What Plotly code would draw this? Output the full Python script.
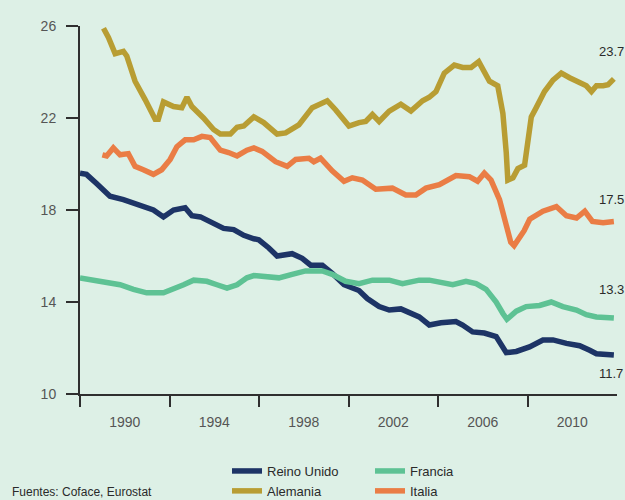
import plotly.graph_objects as go

# Decimal years and values for each country series
reino_unido_x = [1988.0, 1988.29, 1988.74, 1989.34, 1989.94, 1990.39, 1990.83, 1991.28, 1991.73, 1992.18,
                 1992.7, 1993.0, 1993.38, 1993.97, 1994.42, 1994.87, 1995.32, 1995.77, 1995.99, 1996.44,
                 1996.81, 1997.48, 1997.93, 1998.31, 1998.83, 1999.27, 1999.8, 2000.47, 2000.84, 2001.37,
                 2001.82, 2002.34, 2002.71, 2003.16, 2003.61, 2004.13, 2004.8, 2005.1, 2005.55, 2006.07,
                 2006.6, 2006.82, 2007.05, 2007.5, 2008.09, 2008.69, 2009.14, 2009.74, 2010.33, 2010.78,
                 2011.08, 2011.86]
reino_unido_y = [19.6, 19.55, 19.15, 18.6, 18.45, 18.3, 18.15, 18.0, 17.7, 18.0,
                 18.1, 17.75, 17.7, 17.45, 17.2, 17.15, 16.9, 16.75, 16.7, 16.35,
                 16.0, 16.1, 15.9, 15.6, 15.6, 15.25, 14.75, 14.5, 14.15, 13.8,
                 13.65, 13.7, 13.55, 13.35, 13.0, 13.1, 13.15, 13.0, 12.7, 12.65,
                 12.5, 12.15, 11.8, 11.85, 12.05, 12.35, 12.35, 12.2, 12.1, 11.9,
                 11.75, 11.7]

alemania_x = [1989.05, 1989.27, 1989.57, 1989.94, 1990.09, 1990.46, 1990.91, 1991.36, 1991.5, 1991.73,
              1992.18, 1992.55, 1992.78, 1993.0, 1993.52, 1993.97, 1994.27, 1994.72, 1995.02, 1995.32,
              1995.54, 1995.77, 1996.21, 1996.81, 1997.19, 1997.78, 1998.38, 1999.05, 1999.43, 2000.02,
              2000.47, 2000.77, 2001.07, 2001.37, 2001.82, 2002.34, 2002.79, 2003.31, 2003.61, 2003.91,
              2004.28, 2004.73, 2005.1, 2005.48, 2005.82, 2006.07, 2006.3, 2006.67, 2006.9, 2007.05,
              2007.12, 2007.35, 2007.57, 2007.87, 2008.02, 2008.17, 2008.39, 2008.76, 2009.14, 2009.51,
              2009.88, 2010.26, 2010.63, 2010.86, 2011.08, 2011.38, 2011.6, 2011.86]
alemania_y = [25.9, 25.5, 24.8, 24.9, 24.7, 23.6, 22.8, 21.95, 21.95, 22.7,
              22.5, 22.45, 22.9, 22.5, 22.0, 21.5, 21.3, 21.3, 21.6, 21.65,
              21.85, 22.05, 21.8, 21.3, 21.35, 21.7, 22.45, 22.75, 22.35, 21.65,
              21.8, 21.85, 22.15, 21.85, 22.3, 22.6, 22.3, 22.75, 22.9, 23.15,
              23.95, 24.3, 24.2, 24.2, 24.45, 23.95, 23.6, 23.4, 22.2, 20.5,
              19.3, 19.4, 19.8, 19.95, 21.05, 22.05, 22.45, 23.15, 23.65, 23.95,
              23.75, 23.6, 23.4, 23.15, 23.4, 23.4, 23.45, 23.7]

francia_x = [1988.0, 1988.59, 1989.19, 1989.79, 1990.39, 1990.98, 1991.73, 1992.18, 1992.63, 1993.08,
             1993.67, 1994.12, 1994.57, 1995.02, 1995.46, 1995.77, 1996.14, 1996.89, 1997.48, 1998.08,
             1998.83, 1999.27, 1999.87, 2000.47, 2001.07, 2001.82, 2002.41, 2003.16, 2003.61, 2004.06,
             2004.66, 2005.25, 2005.7, 2006.15, 2006.6, 2006.9, 2007.08, 2007.5, 2007.94, 2008.54,
             2009.06, 2009.58, 2010.19, 2010.63, 2011.08, 2011.86]
francia_y = [15.05, 14.95, 14.9, 14.75, 14.55, 14.4, 14.4, 14.55, 14.75, 14.95,
             14.9, 14.75, 14.6, 14.75, 15.05, 15.15, 15.1, 15.05, 15.2, 15.35,
             15.35, 15.2, 14.9, 14.8, 14.95, 14.95, 14.8, 14.95, 14.95, 14.85,
             14.75, 14.9, 14.8, 14.55, 14.0, 13.5, 13.25, 13.6, 13.8, 13.85,
             14.0, 13.8, 13.65, 13.45, 13.35, 13.3]

italia_x = [1989.0, 1989.19, 1989.49, 1989.79, 1990.16, 1990.46, 1990.83, 1991.28, 1991.65, 1992.03,
            1992.33, 1992.7, 1993.08, 1993.45, 1993.82, 1994.27, 1994.64, 1995.02, 1995.46, 1995.77,
            1996.14, 1996.74, 1997.26, 1997.64, 1998.23, 1998.45, 1998.75, 1999.27, 1999.8, 2000.17,
            2000.62, 2001.22, 2001.96, 2002.56, 2003.01, 2003.46, 2004.06, 2004.8, 2005.4, 2005.77,
            2006.07, 2006.37, 2006.75, 2007.05, 2007.25, 2007.4, 2007.6, 2007.85, 2008.1, 2008.69,
            2009.29, 2009.74, 2010.19, 2010.56, 2010.9, 2011.38, 2011.86]
italia_y = [20.4, 20.35, 20.7, 20.4, 20.45, 19.9, 19.75, 19.55, 19.75, 20.2,
            20.75, 21.05, 21.05, 21.2, 21.15, 20.6, 20.5, 20.35, 20.6, 20.7,
            20.55, 20.1, 19.9, 20.2, 20.25, 20.1, 20.25, 19.7, 19.25, 19.4,
            19.3, 18.9, 18.95, 18.65, 18.65, 18.95, 19.1, 19.5, 19.45, 19.25,
            19.6, 19.3, 18.45, 17.4, 16.6, 16.45, 16.7, 17.1, 17.6, 17.95,
            18.15, 17.75, 17.65, 17.95, 17.5, 17.45, 17.5]

year_labels = [1990, 1994, 1998, 2002, 2006, 2010]
tick_marks = [1988, 1992, 1996, 2000, 2004, 2008]
y_ticks = [10, 14, 18, 22, 26]

BG = "#ddf0e6"
AXIS = "#2f2f2f"
FONT = "Liberation Sans, Arial, sans-serif"

# plot area in pixels
L, R, T, B, W, H = 80, 8, 26, 106, 625, 500
PW, PH = W - L - R, H - T - B

fig = go.Figure()

series = [
    ("Reino Unido", reino_unido_x, reino_unido_y, "#1d3466", "legend", -19),
    ("Alemania", alemania_x, alemania_y, "#b89d33", "legend", 27),
    ("Francia", francia_x, francia_y, "#5ec294", "legend2", 29),
    ("Italia", italia_x, italia_y, "#ea7d45", "legend2", 22),
]

for name, xs, ys, color, leg, _ in series:
    fig.add_trace(go.Scatter(
        x=xs, y=ys, name=name, mode="lines",
        line=dict(color=color, width=5.5),
        legend=leg,
    ))

# End-of-series value labels
for name, xs, ys, color, leg, shift in series:
    fig.add_annotation(
        x=2011.1, y=ys[-1], xref="x", yref="y",
        text=f"{ys[-1]:.1f}", showarrow=False,
        xanchor="left", yanchor="middle", yshift=shift,
        font=dict(family=FONT, size=13, color="#2a2a2a"),
    )

# Source note, bottom left
fig.add_annotation(
    x=(10 - L) / PW, y=(PH + T - 492) / PH, xref="paper", yref="paper",
    text="Fuentes: Coface, Eurostat",
    showarrow=False, xanchor="left", yanchor="middle",
    font=dict(family=FONT, size=12, color="#2a2a2a"),
)

legend_style = dict(
    orientation="v", xref="container", yref="container",
    yanchor="top", xanchor="left",
    bgcolor="rgba(0,0,0,0)", borderwidth=0,
    font=dict(family=FONT, size=13, color="#2a2a2a"),
    tracegroupgap=0,
)

fig.update_layout(
    width=W, height=H,
    margin=dict(l=L, r=R, t=T, b=B, autoexpand=False),
    paper_bgcolor=BG, plot_bgcolor=BG,
    font=dict(family=FONT, color="#555555"),
    showlegend=True,
    legend=dict(x=227 / W, y=1 - 456 / H, **legend_style),
    legend2=dict(x=370 / W, y=1 - 456 / H, **legend_style),
    xaxis=dict(
        range=[1988, 2012], showgrid=False, zeroline=False,
        showline=True, linecolor=AXIS, linewidth=2,
        tickmode="array", tickvals=year_labels, ticktext=[str(v) for v in year_labels],
        ticks="", ticklabelstandoff=14,
        tickfont=dict(family=FONT, size=14, color="#555555"),
        minor=dict(tickmode="array", tickvals=tick_marks, ticks="outside",
                   ticklen=11, tickwidth=2, tickcolor=AXIS, showgrid=False),
    ),
    yaxis=dict(
        range=[10, 26], showgrid=False, zeroline=False,
        showline=True, linecolor=AXIS, linewidth=2,
        tickmode="array", tickvals=y_ticks,
        ticks="outside", ticklen=12, tickwidth=2, tickcolor=AXIS,
        ticklabelstandoff=7,
        tickfont=dict(family=FONT, size=14, color="#555555"),
    ),
)

fig.write_html("out.html")
